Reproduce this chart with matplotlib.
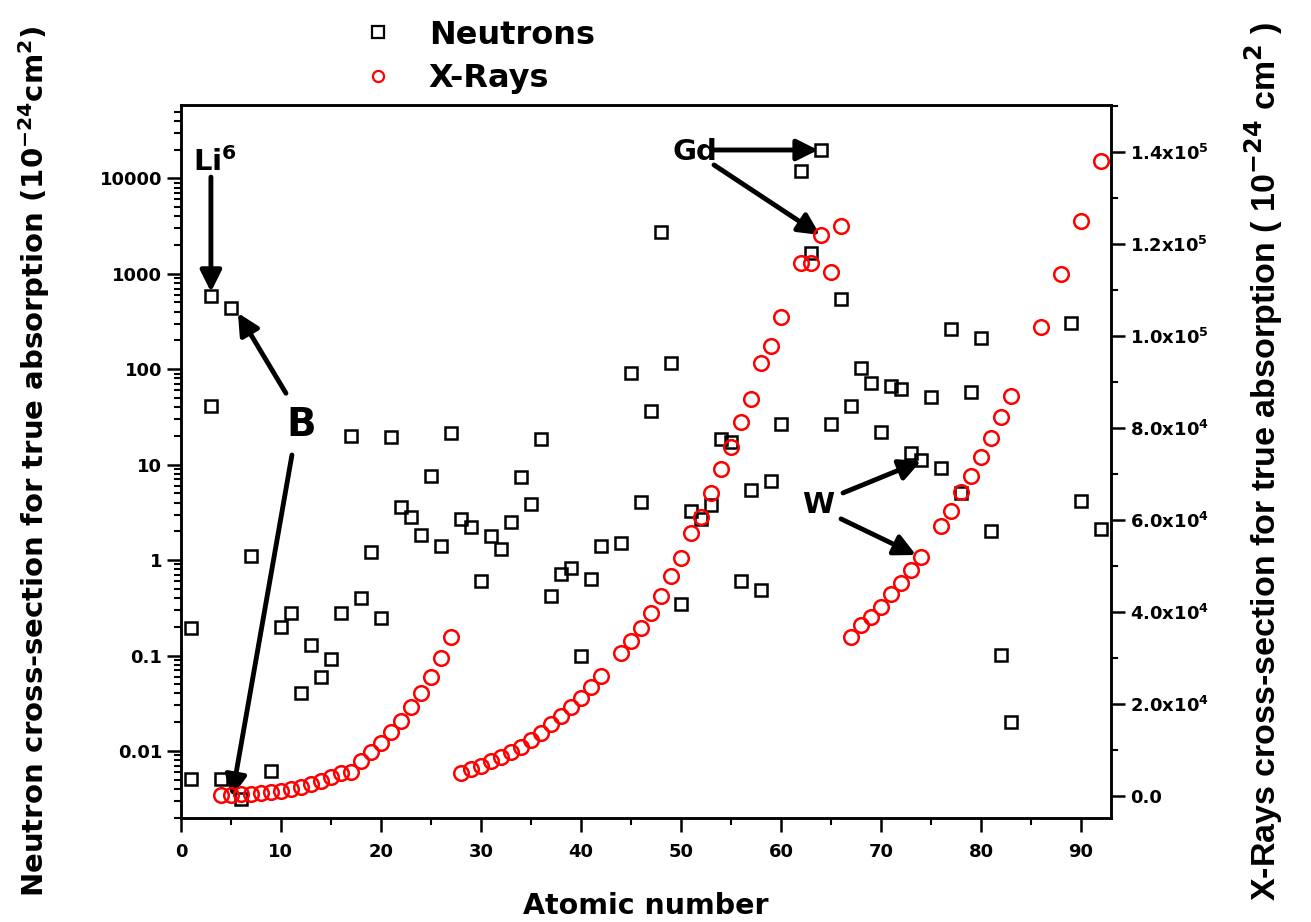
import matplotlib
matplotlib.use('Agg')
import matplotlib.pyplot as plt
import numpy as np
from matplotlib.ticker import FixedLocator, FuncFormatter, LogLocator, MultipleLocator, NullFormatter
from matplotlib.lines import Line2D

plt.rcParams['font.family'] = ['DejaVu Sans']
plt.rcParams['font.weight'] = 'bold'
plt.rcParams['mathtext.default'] = 'bf'

# neutron absorption cross-section (barn), by atomic number
n_z = [1, 1, 3, 3, 4, 5, 6, 7, 9, 10, 11, 12, 13, 14, 15, 16, 17, 18, 19, 20,
       21, 22, 23, 24, 25, 26, 27, 28, 29, 30, 31, 32, 33, 34, 35, 36, 37, 38, 39, 40,
       41, 42, 44, 45, 46, 47, 48, 49, 50, 51, 52, 53, 54, 55, 56, 57, 58, 59, 60,
       62, 63, 64, 65, 66, 67, 68, 69, 70, 71, 72, 73, 74, 75, 76, 77, 78, 79, 80,
       81, 82, 83, 89, 90, 92]
n_val = [0.195, 0.0051, 585, 41, 0.0051, 440, 0.0031, 1.1, 0.0062, 0.2, 0.28, 0.040, 0.13, 0.060,
         0.092, 0.28, 20, 0.40, 1.22, 0.25,
         19.6, 3.6, 2.83, 1.83, 7.6, 1.41, 21.6, 2.7, 2.22, 0.60, 1.79, 1.31, 2.51, 7.4, 3.87,
         18.6, 0.42, 0.72, 0.83, 0.099,
         0.64, 1.41, 1.51, 91, 4.06, 36.5, 2740, 116, 0.35, 3.26, 2.7, 3.8, 18.6, 17.3, 0.60,
         5.4, 0.49, 6.7, 26.7,
         11900, 1650, 19900, 26.7, 543, 41, 103, 72, 22, 67, 62, 13.2, 11.2, 51, 9.2, 264,
         5.0, 57, 212,
         2.02, 0.101, 0.020, 305, 4.16, 2.12]

# X-ray true absorption cross-section, by atomic number
x_z = list(range(4, 28)) + list(range(28, 43)) + list(range(44, 61)) + [62, 63, 64, 65, 66] + \
      list(range(67, 75)) + list(range(76, 84)) + [86, 88, 90, 92]
x_val = [330, 330, 480, 540, 700, 910, 1260, 1690, 2130, 2720, 3370, 4240, 5170, 5390, 7780,
         9600, 11690, 14080, 16470, 19510, 22560, 26030, 30030, 34590,
         5040, 5910, 6630, 7710, 8520, 9740, 10820, 12280, 13860, 15750, 17490, 19380, 21470,
         23730, 26180,
         31250, 33860, 36620, 39920, 43570, 47920, 51890, 57190, 60800, 65890, 71170, 76010,
         81450, 86420, 94260, 97960, 104130,
         115860, 115860, 122010, 114040, 124030,
         34720, 37270, 38940, 41240, 43940, 46460, 49220, 52110,
         58780, 62040, 66230, 69640, 73840, 77840, 82400, 87030,
         102090, 113540, 125120, 138090]

left_ticks = [0.01, 0.1, 1, 10, 100, 1000, 10000]
left_labels = ['0.01', '0.1', '1', '10', '100', '1000', '10000']
right_ticks = [0, 20000, 40000, 60000, 80000, 100000, 120000, 140000]

fig = plt.figure(figsize=(13.11, 9.22), dpi=100)
ax = fig.add_axes([0.138, 0.1125, 0.7095, 0.7736])
ax2 = ax.twinx()

ax.plot(n_z, n_val, 's', ms=9, mfc='none', mec='black', mew=1.8, label='Neutrons')
ax2.plot(x_z, x_val, 'o', ms=10.5, mfc='none', mec='red', mew=1.8, label='X-Rays')

ax.set_yscale('log')
ax.set_xlim(0, 93)
ax.set_ylim(0.00197, 58600)
ax2.set_ylim(-4740, 150260)

ax.xaxis.set_major_locator(MultipleLocator(10))
ax.xaxis.set_minor_locator(MultipleLocator(5))
ax.yaxis.set_major_locator(FixedLocator(left_ticks))
ax.yaxis.set_major_formatter(FuncFormatter(lambda v, p: left_labels[left_ticks.index(v)] if v in left_ticks else ''))
ax.yaxis.set_minor_locator(LogLocator(base=10, subs=np.arange(2, 10), numticks=20))
ax.yaxis.set_minor_formatter(NullFormatter())

def right_fmt(v, p):
    if v == 0:
        return '0.0'
    e = int(np.floor(np.log10(v)))
    return '%.1fx10$^{%d}$' % (v / 10 ** e, e)

ax2.yaxis.set_major_locator(FixedLocator(right_ticks))
ax2.yaxis.set_major_formatter(FuncFormatter(right_fmt))
ax2.yaxis.set_minor_locator(MultipleLocator(10000))

for a in (ax, ax2):
    for s in a.spines.values():
        s.set_linewidth(1.8)
    a.tick_params(which='major', direction='out', length=10, width=1.8, labelsize=13)
    a.tick_params(which='minor', direction='out', length=5, width=1.5)
ax.tick_params(axis='x', pad=8)

ax.set_xlabel('Atomic number', fontsize=20.5, fontweight='bold', labelpad=22)
ax.set_ylabel('Neutron cross-section for true absorption (10$^{-24}$cm$^{2}$)',
              fontsize=21, fontweight='bold', labelpad=34)
ax2.set_ylabel('X-Rays cross-section for true absorption ( 10$^{-24}$ cm$^{2}$ )',
               fontsize=24.5, fontweight='bold', family=['Liberation Sans', 'DejaVu Sans'],
               labelpad=24)

# annotations
arr = dict(arrowstyle='-|>', lw=3.5, color='black', mutation_scale=32, shrinkA=0, shrinkB=0)
ax.text(3.4, 14800, 'Li$^{6}$', fontsize=21, fontweight='bold', ha='center', va='center')
ax.annotate('', xy=(3.0, 645), xytext=(3.0, 10300), arrowprops=arr)

ax.text(12.0, 26, 'B', fontsize=28, fontweight='bold', ha='center', va='center')
ax.annotate('', xy=(5.7, 388), xytext=(10.5, 56), arrowprops=arr)
ax.annotate('', xy=(5.1, 0.0033), xytext=(11.1, 12.6), arrowprops=arr)

ax.text(51.4, 19000, 'Gd', fontsize=21, fontweight='bold', ha='center', va='center')
ax.annotate('', xy=(63.7, 19800), xytext=(53.2, 19800), arrowprops=arr)
ax.annotate('', xy=(63.9, 2550), xytext=(53.3, 13800), arrowprops=arr)

ax.text(63.7, 3.8, 'W', fontsize=21, fontweight='bold', ha='center', va='center')
ax.annotate('', xy=(74.0, 10.9), xytext=(66.2, 5.05), arrowprops=arr)
ax.annotate('', xy=(73.5, 1.13), xytext=(66.0, 2.7), arrowprops=arr)

handles = [Line2D([], [], ls='none', marker='s', ms=8, mfc='none', mec='black', mew=1.6),
           Line2D([], [], ls='none', marker='o', ms=8, mfc='none', mec='red', mew=1.6)]
fig.legend(handles, ['Neutrons', 'X-Rays'], loc='upper left', bbox_to_anchor=(0.2418, 1.010),
           frameon=False, prop={'size': 23, 'weight': 'bold'}, handletextpad=0.6,
           labelspacing=0.4)

fig.savefig('out.png', dpi=100)
